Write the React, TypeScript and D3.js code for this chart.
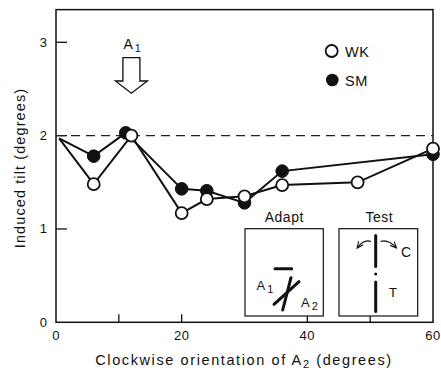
import React from "react";
import * as d3 from "d3";

// orientation of A2 (deg) and induced tilt (deg); first entry is the line start (no marker)
const wkX = [0.5, 6, 12, 20, 24, 30, 36, 48, 60];
const wkY = [1.97, 1.48, 2.0, 1.17, 1.32, 1.35, 1.47, 1.5, 1.86];
const smX = [0.5, 6, 11.1, 20, 24, 30, 36, 60];
const smY = [1.97, 1.78, 2.03, 1.43, 1.41, 1.28, 1.62, 1.8];

const xTickLabels = [0, 20, 40, 60];
const xTickMarks = [10, 20, 40, 50];
const yTickLabels = [0, 1, 2, 3];
const yTickMarks = [1, 2, 3];
const refLevel = 2;
const arrowAt = 12;

const W = 441, H = 371;
const FONT = "'Liberation Sans', Arial, sans-serif";

export default function App() {
  const x = d3.scaleLinear().domain([0, 60]).range([56, 433]);
  const y = d3.scaleLinear().domain([0, 3]).range([322.3, 42.3]);
  const top = y(3.35);

  const wk = wkX.map((v, i) => [v, wkY[i]]);
  const sm = smX.map((v, i) => [v, smY[i]]);
  const line = d3.line<number[]>().x(d => x(d[0])).y(d => y(d[1]));

  const ax = x(arrowAt);
  const arrowPts = [
    [ax - 8.5, 57.7], [ax + 8.5, 57.7], [ax + 8.5, 81], [ax + 16, 81],
    [ax, 93.3], [ax - 16, 81], [ax - 8.5, 81],
  ].map(p => p.join(",")).join(" ");

  return (
    <svg width={W} height={H} style={{ position: "absolute", left: 0, top: 0, background: "#fff" }}
      fontFamily={FONT}>
      <defs>
        <marker id="ah" viewBox="0 0 10 10" refX="8" refY="5" markerWidth="6" markerHeight="6" orient="auto">
          <path d="M0,1 L9,5 L0,9" fill="none" stroke="#111" strokeWidth="1.5" />
        </marker>
      </defs>

      {/* frame */}
      <rect x={x(0)} y={top} width={x(60) - x(0)} height={y(0) - top} fill="none" stroke="#111" strokeWidth={1.5} />

      {/* ticks */}
      {yTickMarks.map(t => (
        <line key={"yt" + t} x1={x(0)} x2={x(0) + 11} y1={y(t)} y2={y(t)} stroke="#111" strokeWidth={1.3} />
      ))}
      {xTickMarks.map(t => (
        <line key={"xt" + t} x1={x(t)} x2={x(t)} y1={y(0)} y2={y(0) - 8} stroke="#111" strokeWidth={1.3} />
      ))}
      {yTickLabels.map(t => (
        <text key={"yl" + t} x={47} y={y(t) + 4.5} textAnchor="end" fontSize={13} fill="#111">{t}</text>
      ))}
      {xTickLabels.map(t => (
        <text key={"xl" + t} x={x(t)} y={340} textAnchor="middle" fontSize={13} fill="#111" letterSpacing={0.5}>{t}</text>
      ))}

      {/* axis titles */}
      <text x={244} y={365} textAnchor="middle" fontSize={14.5} letterSpacing={1.6} fill="#111">
        Clockwise orientation of A<tspan fontSize={11} dy={3}>2</tspan><tspan dy={-3}> (degrees)</tspan>
      </text>
      <text transform={`translate(25,${168}) rotate(-90)`} textAnchor="middle" fontSize={14.5} letterSpacing={1.1} fill="#111">
        Induced tilt (degrees)
      </text>

      {/* reference dashed line */}
      <line x1={x(0)} x2={x(60)} y1={y(refLevel)} y2={y(refLevel)} stroke="#222" strokeWidth={1.3} strokeDasharray="9,6" />

      {/* A1 arrow */}
      <text x={ax - 8} y={49} fontSize={14} fill="#111">A<tspan fontSize={11} dy={3} dx={2}>1</tspan></text>
      <polygon points={arrowPts} fill="#fff" stroke="#111" strokeWidth={1.3} />

      {/* series lines */}
      <path d={line(sm) || ""} fill="none" stroke="#111" strokeWidth={2} />
      <path d={line(wk) || ""} fill="none" stroke="#111" strokeWidth={2} />

      {/* markers */}
      {sm.slice(1).map((d, i) => (
        <circle key={"sm" + i} cx={x(d[0])} cy={y(d[1])} r={6.3} fill="#111" stroke="#111" strokeWidth={1} />
      ))}
      {wk.slice(1).map((d, i) => (
        <circle key={"wk" + i} cx={x(d[0])} cy={y(d[1])} r={6} fill="#fff" stroke="#111" strokeWidth={1.8} />
      ))}

      {/* legend */}
      <circle cx={331.7} cy={51} r={6} fill="#fff" stroke="#111" strokeWidth={1.8} />
      <text x={345} y={56.5} fontSize={14.5} letterSpacing={0.5} fill="#111">WK</text>
      <circle cx={332.3} cy={80} r={6.3} fill="#111" />
      <text x={345} y={85.5} fontSize={14.5} letterSpacing={0.5} fill="#111">SM</text>

      {/* inset: Adapt */}
      <text x={284.3} y={221.5} textAnchor="middle" fontSize={14} letterSpacing={0.5} fill="#111">Adapt</text>
      <rect x={245} y={228.7} width={78.3} height={87.3} fill="#fff" stroke="#111" strokeWidth={1.2} />
      <line x1={275} x2={291.7} y1={268.7} y2={268.7} stroke="#111" strokeWidth={3} strokeLinecap="round" />
      <line x1={291} y1={277.7} x2={282.7} y2={310} stroke="#111" strokeWidth={3} strokeLinecap="round" />
      <line x1={299} y1={281.7} x2={274} y2={304.3} stroke="#111" strokeWidth={3} strokeLinecap="round" />
      <text x={256.5} y={290} fontSize={13} fill="#111">A<tspan fontSize={11} dx={2} dy={3}>1</tspan></text>
      <text x={301} y={306.5} fontSize={13} fill="#111">A<tspan fontSize={11} dx={2} dy={3}>2</tspan></text>

      {/* inset: Test */}
      <text x={379.3} y={221.5} textAnchor="middle" fontSize={14} letterSpacing={0.5} fill="#111">Test</text>
      <rect x={339} y={228.7} width={78.7} height={87.3} fill="#fff" stroke="#111" strokeWidth={1.2} />
      <line x1={375.7} x2={375.7} y1={235.5} y2={266.5} stroke="#111" strokeWidth={3} strokeLinecap="round" />
      <circle cx={375.7} cy={274} r={1.5} fill="#111" />
      <line x1={375.7} x2={375.7} y1={282} y2={311.5} stroke="#111" strokeWidth={3} strokeLinecap="round" />
      <path d="M371,241.5 Q364,239 357.5,247.5" fill="none" stroke="#111" strokeWidth={1.2} markerEnd="url(#ah)" />
      <path d="M380.5,241.5 Q388,239 396,247.5" fill="none" stroke="#111" strokeWidth={1.2} markerEnd="url(#ah)" />
      <text x={401} y={256.5} fontSize={14} fill="#111">C</text>
      <text x={389} y={296.5} fontSize={13} fill="#111">T</text>
    </svg>
  );
}
